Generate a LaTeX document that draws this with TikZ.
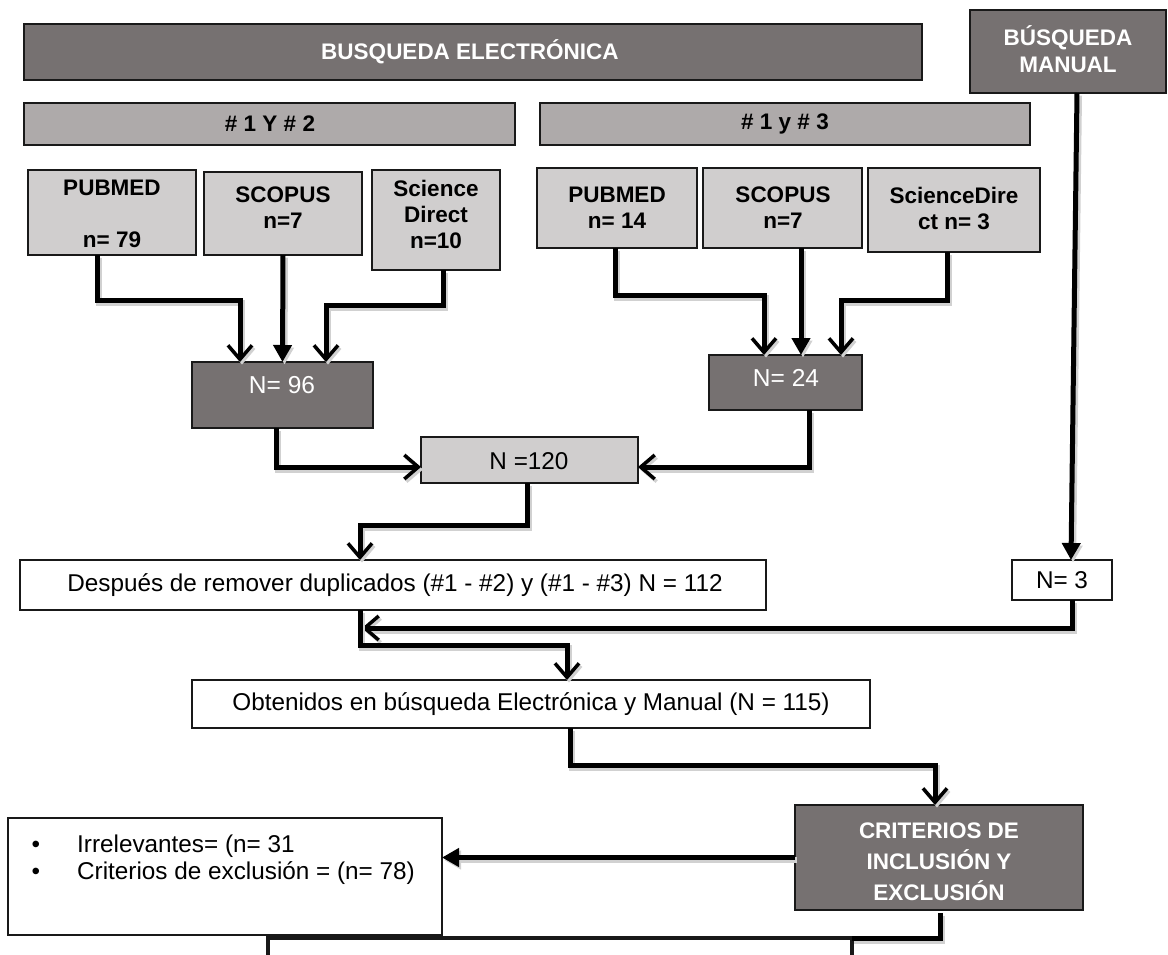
\documentclass[tikz,border=0pt]{standalone}
\usepackage{fontspec}
\setmainfont{Liberation Sans}
\usetikzlibrary{arrows.meta}
\definecolor{dk}{HTML}{767171}
\definecolor{md}{HTML}{AEAAAA}
\definecolor{lt}{HTML}{D0CECE}
\tikzset{
  bx/.style={draw=black!90, line width=2.5pt, anchor=north west, inner sep=0pt, outer sep=0pt},
  dkbox/.style={bx, fill=dk},
  mdbox/.style={bx, fill=md},
  ltbox/.style={bx, fill=lt},
  whbox/.style={bx, fill=white},
  wbold/.style={text=white, font=\fontsize{22.5}{27}\selectfont\bfseries, align=center, inner sep=0pt},
  bbold/.style={text=black, font=\fontsize{22.5}{26}\selectfont\bfseries, align=center, inner sep=0pt},
  wreg/.style={text=white, font=\fontsize{24.5}{27}\selectfont, align=center, inner sep=0pt},
  breg/.style={text=black, font=\fontsize{24.3}{27}\selectfont, align=center, inner sep=0pt},
  conn/.style={line width=5pt, draw=black,
    preaction={draw=black!18, line width=6pt, transform canvas={xshift=2pt,yshift=-2.5pt}}},
  barb/.style={-{Straight Barb[length=14pt,width=24pt,line width=3.5pt]}},
  tri/.style={-{Triangle[length=17pt,width=18pt]}},
}
\newcommand\mkbox[6]{\node[#6, minimum width={(#4)-(#2)}, minimum height={(#5)-(#3)}] (#1) at (#2,#3) {};}
\begin{document}
\begin{tikzpicture}[x=1pt,y=-1pt]
\useasboundingbox (0,0) rectangle (1168,954);
\clip (0,0) rectangle (1168,954);
% boxes
\mkbox{be}{24}{24}{922}{80}{dkbox}
\mkbox{bm}{970}{10}{1166}{93}{dkbox}
\mkbox{g12}{24}{103}{515}{145}{mdbox}
\mkbox{g13}{540}{103}{1030}{145}{mdbox}
\mkbox{p1}{28}{170}{196}{255}{ltbox}
\mkbox{s1}{204}{172}{362}{255}{ltbox}
\mkbox{d1}{372}{170}{500}{270}{ltbox}
\mkbox{p2}{537}{168}{697}{248}{ltbox}
\mkbox{s2}{703}{168}{862}{248}{ltbox}
\mkbox{d2}{868}{168}{1040}{252}{ltbox}
\mkbox{n96}{192}{362}{373}{428}{dkbox}
\mkbox{n24}{709}{355}{862}{410}{dkbox}
\mkbox{n120}{421}{437}{638}{483}{ltbox}
\mkbox{dup}{20}{560}{766}{610}{whbox}
\mkbox{n3}{1012}{560}{1112}{600}{whbox}
\mkbox{obt}{192}{680}{870}{728}{whbox}
\mkbox{crit}{795}{805}{1083}{910}{dkbox}
\mkbox{irr}{8}{818}{442}{935}{whbox}
\node[bx, fill=white, line width=4pt, minimum width=584, minimum height=60] (bot) at (268,938) {};
% texts
\node[wbold] (tbe) at (470,52) {BUSQUEDA ELECTRÓNICA};
\node[wbold] (tbm) at (1068,49) {BÚSQUEDA\\MANUAL};
\node[bbold] (tg12) at (270,124) {\# 1 Y \# 2};
\node[bbold] (tg13) at (785,124) {\# 1 y \# 3};
\node[bbold] (tp1) at (112,214) {PUBMED\\[26pt]n= 79};
\node[bbold] (ts1) at (283,208) {SCOPUS\\n=7};
\node[bbold] (td1) at (436,214) {Science\\Direct\\n=10};
\node[bbold] (tp2) at (617,208) {PUBMED\\n= 14};
\node[bbold] (ts2) at (783,208) {SCOPUS\\n=7};
\node[bbold] (td2) at (954,208) {ScienceDire\\ct n= 3};
\node[wreg] (tn96) at (282,385) {N= 96};
\node[wreg] (tn24) at (786,378) {N= 24};
\node[breg] (tn120) at (529,461) {N =120};
\node[breg] (tdup) at (395,585) {Después de remover duplicados (\#1 - \#2) y (\#1 - \#3) N = 112};
\node[breg] (tn3) at (1062,580) {N= 3};
\node[breg] (tobt) at (531,704) {Obtenidos en búsqueda Electrónica y Manual (N = 115)};
\node[wbold, font=\fontsize{22.5}{31}\selectfont\bfseries] (tcrit) at (939,862) {CRITERIOS DE\\INCLUSIÓN Y\\EXCLUSIÓN};
\node[breg] (b1) at (36,847) {•};
\node[breg] (b2) at (36,874) {•};
\node[breg, anchor=west] (ti1) at (77,846) {Irrelevantes= (n= 31};
\node[breg, anchor=west] (ti2) at (77,873) {Criterios de exclusión = (n= 78)};
% connectors
\draw[conn,barb] ([xshift=-15pt]p1.south) -- ++(0,45) -| ([xshift=-42.5pt]n96.north);
\draw[conn,tri] (s1.south) -- (n96.north);
\draw[conn,barb] ([xshift=7pt]d1.south) -- ++(0,35) -| ([xshift=43.5pt]n96.north);
\draw[conn,barb] ([xshift=-2pt]p2.south) -- ++(0,47) -| ([xshift=-21.5pt]n24.north);
\draw[conn,tri] ([xshift=18.5pt]s2.south) -- ([xshift=15.5pt]n24.north);
\draw[conn,barb] ([xshift=-7pt]d2.south) -- ++(0,48) -| ([xshift=55.5pt]n24.north);
\draw[conn,barb] ([xshift=-6.5pt]n96.south) |- ([yshift=-7pt]n120.west);
\draw[conn,barb] ([xshift=23.5pt]n24.south) |- ([yshift=-7pt]n120.east);
\draw[conn,barb] ([xshift=-2.5pt]n120.south) -- ++(0,42) -| ([xshift=-33pt]dup.north);
\draw[conn,tri] ([xshift=9pt]bm.south) -- ([xshift=9pt]n3.north);
\draw[conn,barb] ([xshift=10pt]n3.south) |- ([xshift=-31pt,yshift=-18pt]dup.south);
\draw[conn,barb] ([xshift=-33pt]dup.south) -- ++(0,35) -| ([xshift=36pt]obt.north);
\draw[conn,barb] ([xshift=39pt]obt.south) -- ++(0,37) -| ([xshift=-4pt]crit.north);
\draw[conn,tri] (crit.west) -- (crit.west -| irr.east);
\draw[conn] ([xshift=1pt,yshift=-3pt]crit.south) |- (bot.north east);
\end{tikzpicture}
\end{document}
